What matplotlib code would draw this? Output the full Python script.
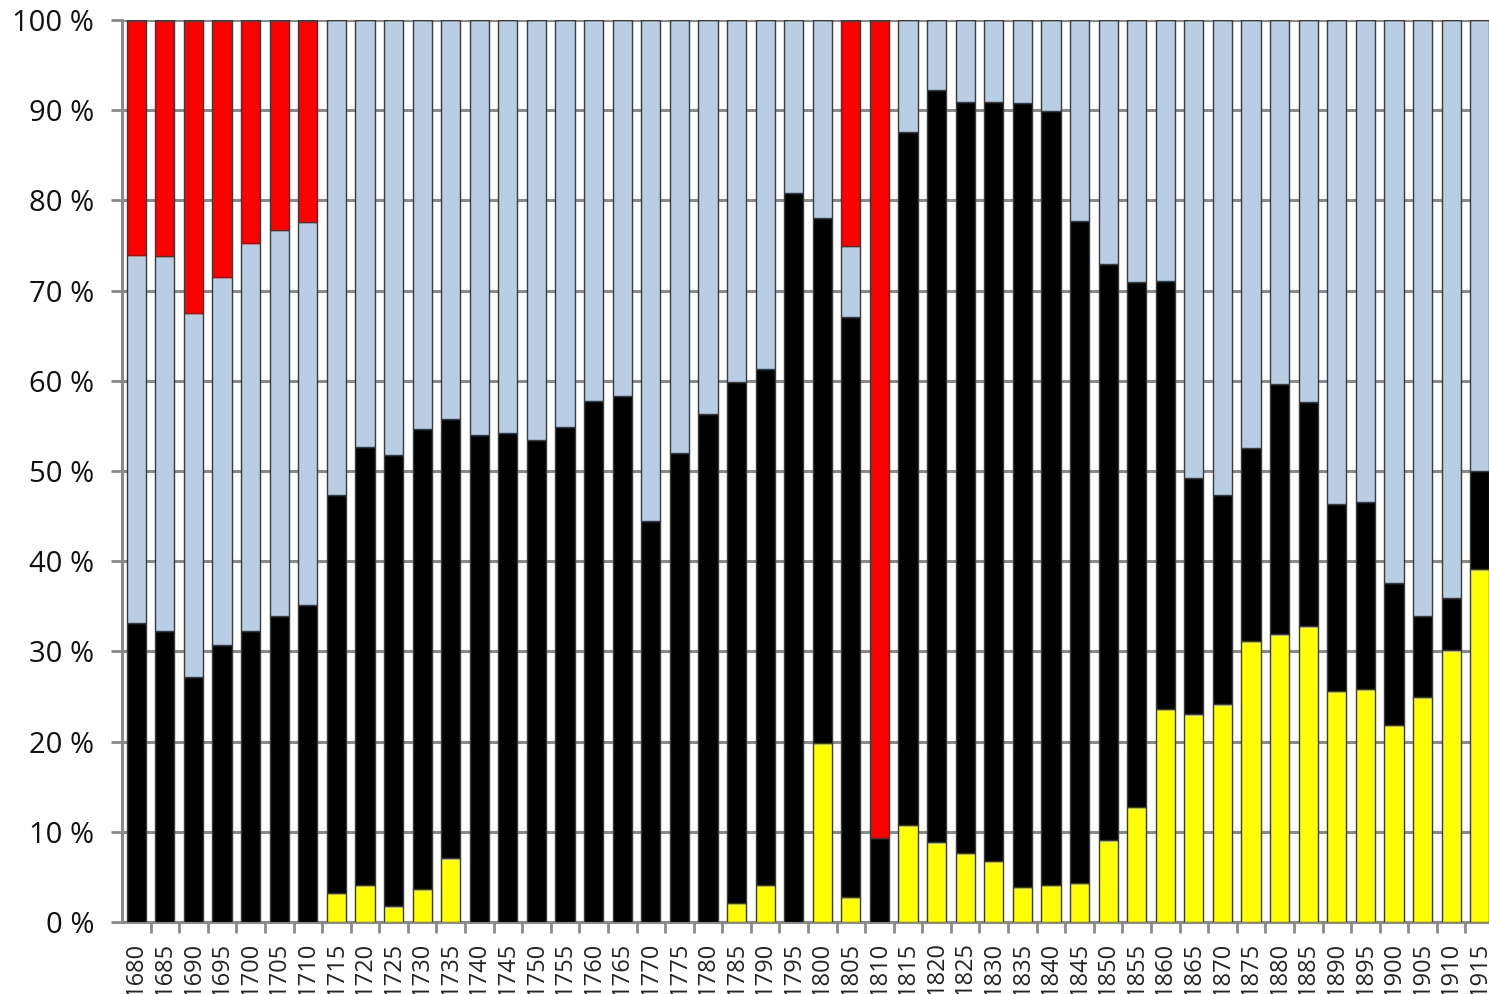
import numpy as np
import matplotlib
matplotlib.use("Agg")
import matplotlib.pyplot as plt

years = [str(y) for y in range(1680, 1920, 5)]

# cumulative tops of each stacked segment (percent)
yellow = [0, 0, 0, 0, 0, 0, 0,
          3.2, 4.1, 1.8, 3.7, 7.1,
          0, 0, 0, 0, 0, 0, 0, 0, 0,
          2.1, 4.1, 0, 19.9, 2.8, 0,
          10.7, 8.9, 7.6, 6.8, 3.9, 4.1, 4.3, 9.1, 12.7, 23.6, 23.1, 24.2,
          31.2, 31.9, 32.8, 25.6, 25.8, 21.8, 24.9, 30.1, 39.1]
black_top = [33.2, 32.3, 27.2, 30.7, 32.3, 33.9, 35.1,
             47.3, 52.7, 51.8, 54.7, 55.8,
             54.0, 54.2, 53.4, 54.9, 57.8, 58.3, 44.5, 52.0, 56.3,
             59.9, 61.3, 80.8, 78.1, 67.1, 9.3,
             87.6, 92.2, 90.9, 90.9, 90.8, 89.9, 77.7, 73.0, 70.9, 71.1, 49.2, 47.3,
             52.6, 59.6, 57.6, 46.3, 46.6, 37.6, 33.9, 35.9, 50.0]
blue_top = [74.0, 73.8, 67.5, 71.5, 75.3, 76.7, 77.6,
            100, 100, 100, 100, 100,
            100, 100, 100, 100, 100, 100, 100, 100, 100,
            100, 100, 100, 100, 74.9, 9.3,
            100, 100, 100, 100, 100, 100, 100, 100, 100, 100, 100, 100,
            100, 100, 100, 100, 100, 100, 100, 100, 100]

yellow = np.array(yellow)
black_top = np.array(black_top)
blue_top = np.array(blue_top)
black = black_top - yellow
blue = blue_top - black_top
red = 100 - blue_top

fig = plt.figure(figsize=(14.89, 9.94), dpi=100)
ax = fig.add_axes([122 / 1489, 72 / 994, 1372 / 1489, 902 / 994])

x = np.arange(len(years))
w = 0.67
kw = dict(width=w, edgecolor="#3a3a3a", linewidth=1.0, zorder=3)
ax.bar(x, yellow, color="#FFFF00", **kw)
ax.bar(x, black, bottom=yellow, color="#000000", **kw)
ax.bar(x, blue, bottom=black_top, color="#B9CDE5", **kw)
ax.bar(x, red, bottom=blue_top, color="#FF0000", **kw)

ax.set_xlim(-0.5, len(years) - 0.5)
ax.set_ylim(0, 100)

ax.set_yticks(np.arange(0, 101, 10))
ax.set_yticklabels([f"{v} %" for v in range(0, 101, 10)],
                   fontsize=21, family="Open Sans", color="#111111")
ax.yaxis.grid(True, color="#8a8a8a", linewidth=2.2, zorder=0)
ax.set_axisbelow(True)

ax.set_xticks(x)
ax.set_xticklabels(years, rotation=90, fontsize=17, family="Open Sans", color="#222222")
ax.set_xticks(np.arange(len(years)) + 0.5, minor=True)
ax.tick_params(axis="x", which="major", length=0, pad=14)
ax.tick_params(axis="x", which="minor", length=8, width=2, color="#8a8a8a")
ax.tick_params(axis="y", length=8, width=2, color="#8a8a8a", pad=12)

for s in ["top", "right"]:
    ax.spines[s].set_visible(False)
for s in ["left", "bottom"]:
    ax.spines[s].set_color("#8a8a8a")
    ax.spines[s].set_linewidth(2.2)

fig.savefig("out.png", dpi=100)
